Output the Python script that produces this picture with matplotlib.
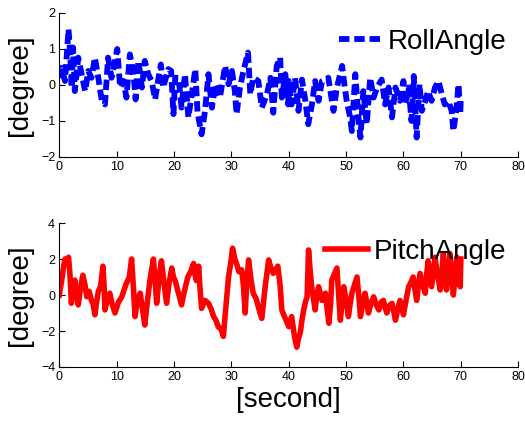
import matplotlib
matplotlib.use("Agg")
import matplotlib.pyplot as plt

# roll angle readings, [second] / [degree]
roll_t = [0.0, 0.4, 1.0, 1.6, 1.9, 2.15, 2.4, 2.7, 3.3, 3.9, 4.5, 5.05, 5.6, 6.2, 6.8,
          7.4, 7.96, 8.5, 9.1, 9.7, 10.1, 10.6, 11.2, 11.7, 12.3, 12.9, 13.3, 13.8,
          14.4, 14.9, 15.5, 16.1, 16.7, 17.3, 17.7, 18.1, 19.0, 19.5, 19.9, 20.2,
          20.8, 21.3, 21.9, 22.5, 23.1, 23.7, 24.1, 24.8, 25.4, 26.0, 26.6, 27.2,
          28.0, 28.9, 29.5, 30.1, 30.6, 30.9, 31.5, 32.1, 32.9, 33.3, 33.8, 34.7,
          35.3, 36.2, 36.8, 37.3, 37.9, 38.5, 38.8, 39.4, 39.9, 40.0, 40.5, 41.1,
          41.7, 42.3, 42.9, 43.4, 44.0, 44.6, 45.2, 45.8, 46.4, 46.9, 47.8, 48.4,
          49.3, 49.7, 50.1, 50.7, 51.0, 51.6, 52.2, 52.5, 53.0, 53.6, 54.2, 54.8,
          55.4, 56.2, 56.8, 57.4, 58.0, 58.6, 59.4, 60.0, 60.3, 60.9, 61.4, 61.8,
          62.3, 62.8, 63.2, 63.8, 64.3, 64.9, 65.5, 66.1, 66.7, 67.2, 67.8, 68.4,
          68.7, 69.2, 69.6, 69.9, 70.0]
roll_deg = [0.2, 0.48, 0.11, 1.55, 0.85, -0.07, 1.04, -0.17, 0.76, 0.3, -0.17, 0.39,
            0.2, 0.76, 0.2, -0.44, -0.54, 0.76, 0.2, 0.67, 1.0, -0.07, 0.11, -0.35,
            0.85, 0.39, -0.4, 0.67, -0.07, 0.67, 0.3, 0.11, -0.4, 0.2, 0.57, -0.07,
            0.44, 0.39, -0.81, 0.2, 0.2, -0.63, 0.3, -0.9, -0.26, 0.44, -0.77, -1.37,
            -0.72, 0.3, -0.63, 0.02, -0.35, 0.53, 0.02, 0.39, -0.17, -0.81, -0.07,
            0.39, 0.9, -0.26, 0.2, 0.11, -0.63, -0.26, 0.2, -0.77, 0.53, 0.76, -0.35,
            0.3, -0.54, 0.11, -0.54, 0.2, -0.72, 0.15, -0.44, -1.09, -0.58, 0.11,
            -0.44, 0.11, 0.15, 0.2, -0.72, -0.07, 0.53, 0.02, -0.44, -0.9, -1.28,
            0.3, -1.0, -1.46, -0.17, -1.09, 0.2, -0.35, -0.07, 0.15, -0.54, -0.07,
            -0.9, -0.07, -0.44, 0.11, -0.54, -0.07, -1.0, 0.25, -1.46, 0.02, -0.72,
            -0.44, -0.17, -0.44, -0.07, 0.11, -0.26, -0.54, -0.44, -0.72, -1.28,
            -0.72, 0.02, -0.81, -0.35]

# pitch angle readings
pitch_t = [0.0, 0.25, 0.5, 0.75, 1.0, 1.3, 1.6, 1.85, 2.1, 2.4, 2.7, 3.0, 3.3, 3.7,
           4.1, 4.45, 4.8, 5.2, 5.6, 5.9, 6.2, 6.5, 6.8, 7.2, 7.6, 7.8, 7.96, 8.4,
           8.8, 9.2, 9.7, 10.3, 10.9, 11.3, 11.7, 12.2, 12.6, 12.9, 13.2, 13.6,
           14.1, 14.5, 14.9, 15.3, 15.8, 16.1, 16.4, 16.7, 16.97, 17.4, 17.8, 18.2,
           18.7, 19.1, 19.6, 19.9, 20.2, 20.7, 21.3, 21.8, 22.4, 22.9, 23.4, 23.6,
           23.9, 24.1, 24.3, 24.5, 24.8, 25.4, 26.0, 26.5, 26.9, 27.3, 27.7, 28.2,
           28.6, 29.0, 29.5, 29.9, 30.2, 30.6, 30.9, 31.3, 31.8, 32.1, 32.4, 32.7,
           33.0, 33.4, 33.8, 34.3, 34.7, 35.0, 35.3, 35.9, 36.5, 36.9, 37.3, 37.7,
           38.1, 38.5, 38.8, 39.4, 40.0, 40.5, 41.0, 41.4, 41.7, 42.0, 42.3, 42.6,
           42.9, 43.2, 43.45, 43.7, 44.0, 44.3, 44.6, 44.9, 45.2, 45.5, 45.8, 46.1,
           46.4, 46.7, 47.0, 47.3, 47.5, 48.0, 48.4, 48.7, 49.0, 49.3, 49.6, 50.0,
           50.4, 50.7, 51.0, 51.5, 51.9, 52.2, 52.5, 52.9, 53.3, 53.6, 53.9, 54.3,
           54.8, 55.2, 55.7, 56.1, 56.5, 56.8, 57.1, 57.5, 58.0, 58.3, 58.6, 59.0,
           59.4, 59.7, 60.0, 60.5, 60.9, 61.3, 61.7, 62.0, 62.3, 62.6, 62.9, 63.3,
           63.8, 64.0, 64.3, 64.6, 64.9, 65.2, 65.5, 65.9, 66.4, 66.7, 66.95, 67.2,
           67.5, 67.8, 68.1, 68.4, 68.7, 69.0, 69.3, 69.6, 69.9, 70.0]
pitch_deg = [0.0, 0.5, 1.0, 1.6, 2.0, 1.8, 2.1, 1.2, -0.46, 0.3, 0.83, 0.0, -0.55,
             0.4, 1.1, 0.6, -0.1, 0.2, -0.3, -0.5, -1.1, -0.4, 0.2, 0.5, 1.6, 0.5,
             -0.83, -0.2, 0.1, -0.5, -1.0, -0.4, -0.1, 0.3, 0.65, 1.0, 2.0, 0.5,
             -1.2, -0.3, 0.1, -0.8, -1.67, -0.5, 0.83, 1.4, 2.0, 0.8, -0.46, 1.0,
             1.9, 0.8, -0.46, 0.6, 1.5, 1.0, 0.8, 0.2, -0.55, 0.2, 1.0, 1.3, 1.75,
             1.2, 0.8, 1.2, 1.6, 0.5, -0.74, -0.3, -0.46, -0.8, -1.2, -1.4, -1.76,
             -1.9, -2.3, -0.8, 1.0, 1.8, 2.6, 2.0, 1.75, 1.3, 1.4, 0.5, -1.0, 0.8,
             1.95, 0.9, 0.1, -0.2, -0.65, -1.0, -1.3, 0.5, 1.95, 1.5, 1.2, 1.4, 1.6,
             0.5, -0.85, -1.3, -1.76, -1.2, -2.3, -2.9, -2.4, -2.1, -1.4, -0.83,
             -0.4, -0.1, 2.5, 1.5, 0.46, -0.2, -0.83, 0.0, 0.46, 0.1, -0.3, -0.1,
             0.1, -0.8, -1.57, -0.5, 0.83, 1.2, 1.5, 0.0, -1.4, -0.4, 0.46, -0.3,
             -1.2, -0.5, 0.1, 0.6, 1.0, 0.0, -1.2, -0.5, 0.1, -0.4, -1.0, -0.5,
             -0.1, -0.5, -0.83, -0.4, -0.3, -0.7, -1.0, -0.6, -0.46, -0.9, -1.4,
             -0.8, -0.3, -0.7, -1.1, -0.2, 0.46, 0.7, 1.0, 0.3, -0.3, 0.5, 1.2, 0.6,
             0.1, 1.0, 1.9, 1.2, 0.46, 1.3, 2.1, 1.2, 0.28, 1.2, 2.3, 1.3, 0.28, 1.2,
             2.3, 1.1, 0.0, 1.0, 2.1, 1.3, 0.46, 2.0]

x_ticks = [0, 10, 20, 30, 40, 50, 60, 70, 80]
roll_ticks = [-2, -1, 0, 1, 2]
pitch_ticks = [-4, -2, 0, 2, 4]

plt.rcParams['font.family'] = ['Liberation Sans', 'DejaVu Sans']
plt.rcParams['lines.scale_dashes'] = False

fig = plt.figure(figsize=(5.25, 4.26), dpi=100)
ax1 = fig.add_axes([0.113, 0.6315, 0.874, 0.338])
ax2 = fig.add_axes([0.113, 0.1385, 0.874, 0.338])


def style(ax, yticks):
    ax.set_xlim(0, 80)
    ax.set_ylim(yticks[0], yticks[-1])
    ax.set_xticks(x_ticks)
    ax.set_yticks(yticks)
    ax.spines['top'].set_visible(False)
    ax.spines['right'].set_visible(False)
    ax.tick_params(direction='in', length=4, labelsize=9, pad=3)
    ax.set_ylabel('[degree]', fontsize=20, labelpad=6)


ax1.plot(roll_t, roll_deg, color='blue', lw=4.2, dashes=(7.5, 3.5), label='RollAngle')
style(ax1, roll_ticks)
ax1.legend(loc='center right', bbox_to_anchor=(0.974, 0.80), frameon=False,
           fontsize=20, handlelength=1.55, handletextpad=0.2,
           borderpad=0, borderaxespad=0)

ax2.plot(pitch_t, pitch_deg, color='red', lw=4, label='PitchAngle')
style(ax2, pitch_ticks)
ax2.legend(loc='center right', bbox_to_anchor=(0.974, 0.80), frameon=False,
           fontsize=20, handlelength=1.55, handletextpad=0.2,
           borderpad=0, borderaxespad=0)
ax2.set_xlabel('[second]', fontsize=20, labelpad=3)

fig.savefig('out.png', dpi=100)
